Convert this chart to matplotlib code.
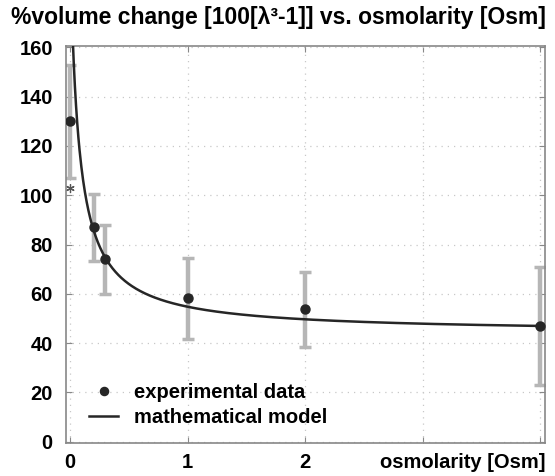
import numpy as np
import matplotlib
matplotlib.use("Agg")
import matplotlib.pyplot as plt
from matplotlib.transforms import ScaledTranslation

plt.rcParams['font.family'] = ['Liberation Sans', 'DejaVu Sans']
plt.rcParams['font.weight'] = 'bold'

# experimental data
osm = [0.0, 0.2, 0.3, 1.0, 2.0, 4.0]
vol_change = [130, 87, 74, 58.5, 54, 47]
err_low = [107, 73.5, 60, 41.5, 38.5, 23]
err_high = [153, 100.5, 88, 74.5, 69, 71]

# significance marker
star_x = [0.0]
star_y = [103]

# mathematical model  y = a + b / (x + c)
model_a = 44.2
model_b = 11.33
model_c = 0.073

x_ticks = [0, 1, 2, 3, 4]
x_tick_labels = ["0", "1", "2", "", "osmolarity [Osm]"]
y_ticks = [0, 20, 40, 60, 80, 100, 120, 140, 160]

grey = "#b6b6b6"
dark = "#262626"

fig = plt.figure(figsize=(5.55, 4.76), dpi=100)
ax = fig.add_axes([0.119, 0.0693, 0.863, 0.834])

xm = np.linspace(0.0, 4.0, 800)
ym = model_a + model_b / (xm + model_c)

vals = np.array(vol_change)
yerr = [vals - np.array(err_low), np.array(err_high) - vals]
ax.errorbar(osm, vol_change, yerr=yerr, fmt="none", ecolor=grey,
            elinewidth=3.2, capsize=4.5, capthick=2.5, zorder=2)
ax.plot(xm, ym, color=dark, lw=1.8, zorder=3, label="mathematical model")
ax.plot(osm, vol_change, "o", color=dark, ms=6.5, ls="none", zorder=4,
        label="experimental data")
ax.plot(star_x, star_y, marker=(6, 2, 0), ms=6, mew=0.9, color="#555555",
        ls="none", zorder=4)

ax.set_xlim(-0.035, 4.04)
ax.set_ylim(-0.5, 160.5)
ax.set_xticks(x_ticks)
ax.set_xticklabels(x_tick_labels)
ax.set_yticks(y_ticks)
ax.grid(True, color="#c8c8c8", ls=(0, (1, 4)), lw=0.9)
ax.tick_params(direction="in", top=True, right=True, length=4, color="#888888",
               labelsize=14.5)
ax.tick_params(axis="y", pad=9.5)
ax.tick_params(axis="x", pad=7.5)
for s in ax.spines.values():
    s.set_color("#888888")
    s.set_linewidth(1.2)

last = ax.get_xticklabels()[-1]
last.set_horizontalalignment("right")
last.set_transform(last.get_transform() + ScaledTranslation(5 / 100, 0, fig.dpi_scale_trans))

h, l = ax.get_legend_handles_labels()
ax.legend([h[1], h[0]], [l[1], l[0]], loc="lower left", bbox_to_anchor=(0.01, -0.005),
          frameon=False, fontsize=14.5, handlelength=1.45, handletextpad=0.8,
          labelspacing=0.3, markerscale=0.9)

fig.text(0.502, 0.964, "%volume change [100[\u03bb\u00b3-1]] vs. osmolarity [Osm]",
         ha="center", va="center", fontsize=16.5, fontweight="bold")

fig.savefig("out.png", dpi=100)
